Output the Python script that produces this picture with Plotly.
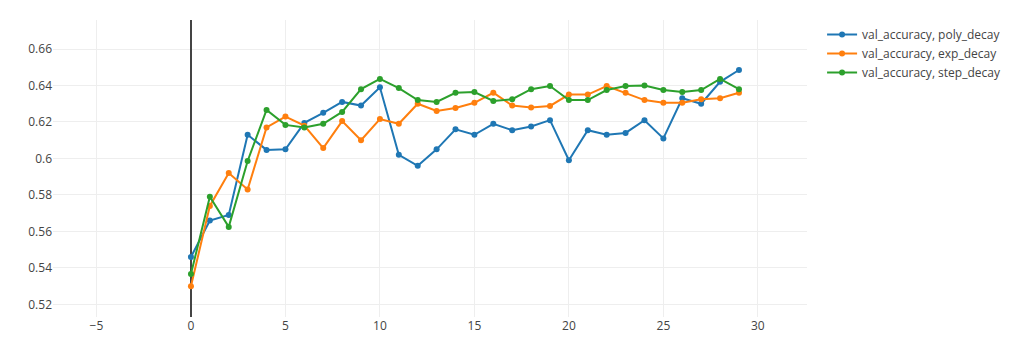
import plotly.graph_objects as go

epochs = list(range(30))

poly_decay = [0.546, 0.566, 0.569, 0.613, 0.6047, 0.605, 0.6195, 0.625, 0.631, 0.629,
              0.639, 0.602, 0.596, 0.605, 0.616, 0.613, 0.619, 0.6155, 0.6175, 0.621,
              0.599, 0.6155, 0.613, 0.614, 0.621, 0.611, 0.633, 0.630, 0.642, 0.6485]

exp_decay = [0.530, 0.574, 0.592, 0.583, 0.617, 0.623, 0.618, 0.6057, 0.6205, 0.610,
             0.6216, 0.619, 0.630, 0.626, 0.6277, 0.6305, 0.636, 0.629, 0.628, 0.6288,
             0.635, 0.635, 0.6397, 0.636, 0.632, 0.6305, 0.6305, 0.6325, 0.633, 0.636]

step_decay = [0.5367, 0.579, 0.5625, 0.5986, 0.6266, 0.6184, 0.617, 0.619, 0.6255, 0.638,
              0.6436, 0.6386, 0.632, 0.631, 0.636, 0.6364, 0.6315, 0.6325, 0.638, 0.6397,
              0.632, 0.632, 0.6375, 0.6397, 0.640, 0.6375, 0.6364, 0.6375, 0.6436, 0.638]

series_names = ["val_accuracy, poly_decay", "val_accuracy, exp_decay", "val_accuracy, step_decay"]
colors = ["#1f77b4", "#ff7f0e", "#2ca02c"]

fig = go.Figure()
for name, vals, c in zip(series_names, [poly_decay, exp_decay, step_decay], colors):
    fig.add_trace(go.Scatter(x=epochs, y=vals, mode="lines+markers", name=name,
                             line=dict(color=c, width=2), marker=dict(color=c, size=6)))

fig.update_layout(
    template="none",
    width=1024, height=359,
    margin=dict(l=45, r=225, t=12, b=50),
    paper_bgcolor="white", plot_bgcolor="white",
    font=dict(family="Open Sans, verdana, arial, sans-serif", size=12, color="#444"),
    showlegend=True,
    legend=dict(x=1.02, y=1, xanchor="left", yanchor="top", font=dict(size=12)),
    xaxis=dict(range=[-7.3, 32.6], dtick=5, showgrid=True, gridcolor="#eee",
               zeroline=True, zerolinecolor="#444", zerolinewidth=2, showline=False,
               ticks="", tickfont=dict(size=12, color="#444")),
    yaxis=dict(range=[0.5131, 0.6759], dtick=0.02, showgrid=True, gridcolor="#eee",
               zeroline=False, showline=False, ticks="", tickfont=dict(size=12, color="#444")),
)

fig.write_html("out.html")
